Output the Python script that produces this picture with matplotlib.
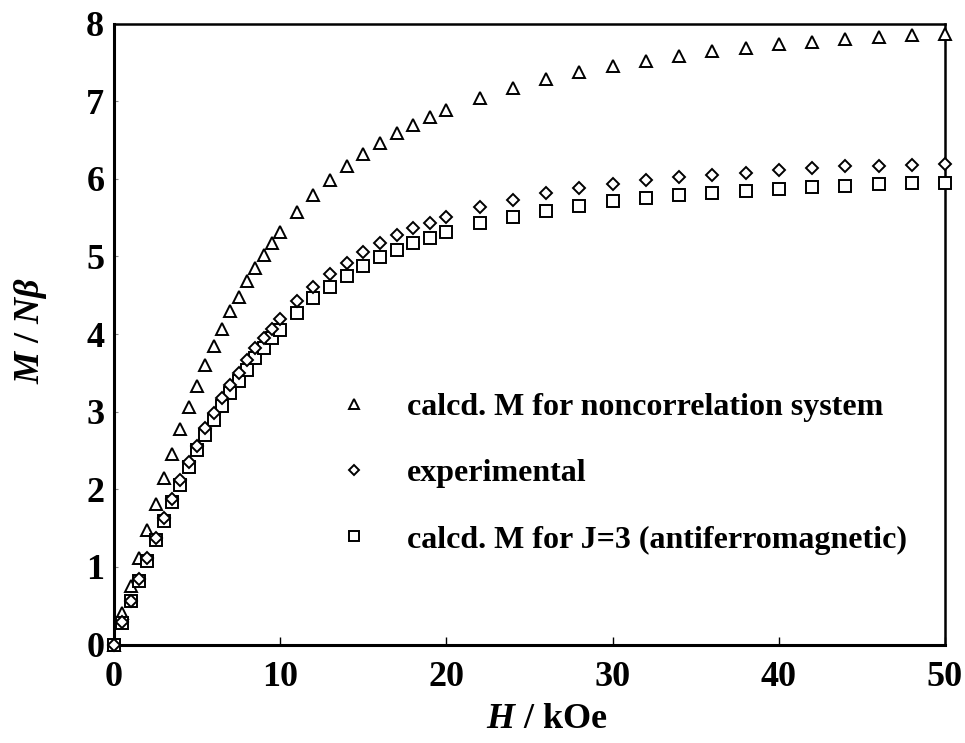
import matplotlib
matplotlib.use("Agg")
import matplotlib.pyplot as plt

# Field values (kOe)
field = [0, 0.5, 1, 1.5, 2, 2.5, 3, 3.5, 4, 4.5, 5, 5.5, 6, 6.5, 7, 7.5, 8, 8.5, 9, 9.5, 10,
         11, 12, 13, 14, 15, 16, 17, 18, 19, 20,
         22, 24, 26, 28, 30, 32, 34, 36, 38, 40, 42, 44, 46, 48, 50]

# Calculated magnetization, noncorrelated system
m_noncorr = [0, 0.40, 0.75, 1.11, 1.47, 1.81, 2.14, 2.46, 2.77, 3.06, 3.33, 3.60, 3.85, 4.07,
             4.29, 4.48, 4.68, 4.85, 5.02, 5.17, 5.32,
             5.57, 5.79, 5.99, 6.17, 6.32, 6.46, 6.59, 6.69, 6.79, 6.88,
             7.04, 7.17, 7.28, 7.38, 7.45, 7.52, 7.58, 7.64, 7.68, 7.73, 7.76, 7.80, 7.82,
             7.85, 7.87]

# Measured magnetization
m_exp = [0, 0.29, 0.56, 0.84, 1.11, 1.37, 1.63, 1.88, 2.12, 2.35, 2.56, 2.79, 2.98, 3.17,
         3.34, 3.50, 3.67, 3.82, 3.95, 4.07, 4.19,
         4.42, 4.60, 4.77, 4.92, 5.05, 5.17, 5.27, 5.36, 5.43, 5.51,
         5.63, 5.73, 5.81, 5.88, 5.93, 5.98, 6.02, 6.05, 6.08, 6.11, 6.14, 6.16, 6.17,
         6.18, 6.19]

# Calculated magnetization, J = 3 (antiferromagnetic)
m_afm = [0, 0.28, 0.56, 0.82, 1.08, 1.34, 1.59, 1.83, 2.06, 2.29, 2.50, 2.70, 2.89, 3.07,
         3.24, 3.39, 3.54, 3.69, 3.82, 3.95, 4.05,
         4.27, 4.46, 4.61, 4.75, 4.88, 4.99, 5.08, 5.17, 5.24, 5.31,
         5.43, 5.51, 5.59, 5.65, 5.71, 5.75, 5.79, 5.82, 5.84, 5.87, 5.90, 5.91, 5.93,
         5.94, 5.94]

labels = ["calcd. M for noncorrelation system",
          "experimental",
          "calcd. M for J=3 (antiferromagnetic)"]
x_ticks = [0, 10, 20, 30, 40, 50]
y_ticks = [0, 1, 2, 3, 4, 5, 6, 7, 8]

SERIF = "Liberation Serif"
plt.rcParams["font.family"] = [SERIF, "DejaVu Serif"]
plt.rcParams["font.weight"] = "bold"
plt.rcParams["mathtext.fontset"] = "custom"
plt.rcParams["mathtext.it"] = "Liberation Serif:italic:bold"
plt.rcParams["mathtext.rm"] = "Liberation Serif:bold"
plt.rcParams["mathtext.bf"] = "Liberation Serif:bold"

fig = plt.figure(figsize=(9.65, 7.43), dpi=100)
ax = fig.add_axes([114 / 965, 1 - 644.5 / 743, 831 / 965, 621 / 743])

common = dict(linestyle="none", markerfacecolor="white", markeredgecolor="black",
              markeredgewidth=1.4, clip_on=False)
ax.plot(field, m_noncorr, marker="^", markersize=9, label=labels[0], zorder=3, **common)
ax.plot(field, m_exp, marker="D", markersize=6.3, label=labels[1], zorder=4, **common)
ax.plot(field, m_afm, marker="s", markersize=8.2, label=labels[2], zorder=3, **common)

ax.set_xlim(0, 50)
ax.set_ylim(0, 8)
ax.set_xticks(x_ticks)
ax.set_yticks(y_ticks)

for side in ("left", "bottom"):
    ax.spines[side].set_linewidth(2.2)
for side in ("top", "right"):
    ax.spines[side].set_linewidth(1.8)

ax.tick_params(axis="x", direction="in", length=6, width=1, pad=12,
               labelsize=26)
ax.tick_params(axis="y", direction="in", length=3, width=0.8, color="#888888",
               pad=7, labelsize=26)
for lab in ax.get_xticklabels() + ax.get_yticklabels():
    lab.set_fontweight("bold")

ax.set_xlabel(r"$H$ / kOe", fontsize=26, fontweight="bold")
ax.xaxis.set_label_coords(0.521, -0.095)
ax.set_ylabel(r"$M$ / $N\beta$", fontsize=26, fontweight="bold")
ax.yaxis.set_label_coords(-0.078, 0.505)

leg = ax.legend(loc="upper left", bbox_to_anchor=(0.27, 0.405), frameon=False,
                prop={"family": SERIF, "weight": "bold", "size": 23},
                handlelength=1.0, handletextpad=1.15, labelspacing=1.15,
                borderpad=0, borderaxespad=0, markerscale=0.8)

fig.savefig("out.png", dpi=100)
